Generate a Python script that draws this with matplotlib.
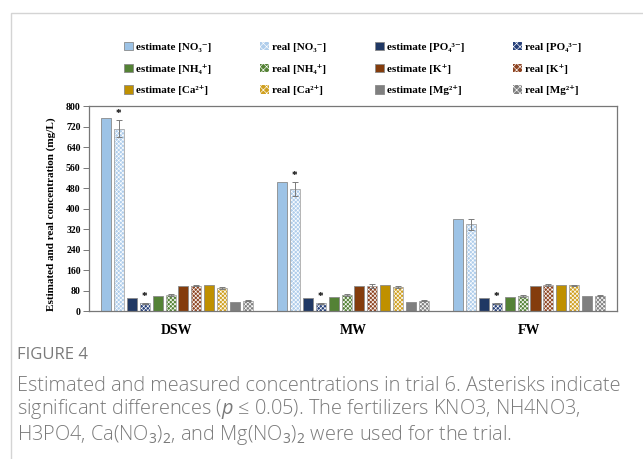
import numpy as np
import matplotlib
matplotlib.use('Agg')
import matplotlib.pyplot as plt
from matplotlib.patches import Rectangle, Patch

plt.rcParams['mathtext.fontset'] = 'custom'
plt.rcParams['mathtext.rm'] = 'Open Sans'
plt.rcParams['mathtext.it'] = 'Open Sans:italic'
plt.rcParams['hatch.linewidth'] = 0.45

SERIF = ['Liberation Serif', 'DejaVu Serif']

# --- data ---
groups = ['DSW', 'MW', 'FW']
ions = ['NO₃⁻', 'PO₄³⁻', 'NH₄⁺', 'K⁺', 'Ca²⁺', 'Mg²⁺']
estimate = {
    'NO₃⁻': [752, 502, 358],
    'PO₄³⁻': [51, 51, 51],
    'NH₄⁺': [57, 56, 56],
    'K⁺': [99, 99, 98],
    'Ca²⁺': [101, 100, 100],
    'Mg²⁺': [36, 35, 57],
}
real = {
    'NO₃⁻': [712, 477, 338],
    'PO₄³⁻': [30, 30, 31],
    'NH₄⁺': [62, 62, 58],
    'K⁺': [99, 96, 103],
    'Ca²⁺': [90, 94, 100],
    'Mg²⁺': [40, 40, 60],
}
real_err = {
    'NO₃⁻': [32, 28, 22],
    'PO₄³⁻': [3, 3, 2],
    'NH₄⁺': [3, 3, 3],
    'K⁺': [3, 8, 4],
    'Ca²⁺': [3, 3, 2],
    'Mg²⁺': [2, 2, 2],
}
# significant differences (real bars marked with *)
signif = {
    'NO₃⁻': [True, True, False],
    'PO₄³⁻': [True, True, True],
}

colors = {
    'NO₃⁻': '#9DC3E6',
    'PO₄³⁻': '#203864',
    'NH₄⁺': '#548235',
    'K⁺': '#843C0C',
    'Ca²⁺': '#BF9000',
    'Mg²⁺': '#7F7F7F',
}
real_face = {
    'NO₃⁻': '#AFCDEB',
    'PO₄³⁻': '#26407A',
    'NH₄⁺': '#548235',
    'K⁺': '#8E4422',
    'Ca²⁺': '#D0A020',
    'Mg²⁺': '#7F7F7F',
}

fig = plt.figure(figsize=(6.43, 4.59), dpi=100)
ax = fig.add_axes([0.1384, 0.3224, 0.8212, 0.4466])

x = np.arange(len(groups))
pitch = 0.0735
width = 0.057
handles = {}
for k, ion in enumerate(ions):
    c = colors[ion]
    xe = x + (2 * k - 5.5) * pitch
    xr = x + (2 * k + 1 - 5.5) * pitch
    ax.bar(xe, estimate[ion], width, color=c, edgecolor='#8a8a8a', linewidth=0.6)
    hatch = 'xxxxxxxx'
    ax.bar(xr, real[ion], width, color=real_face[ion], edgecolor='white', hatch=hatch, linewidth=0)
    ax.bar(xr, real[ion], width, fill=False, edgecolor='#a8a8a8', linewidth=0.6)
    ax.errorbar(xr, real[ion], yerr=real_err[ion], fmt='none', ecolor='#7a7a7a',
                elinewidth=0.7, capsize=2, capthick=0.7)
    handles['estimate [%s]' % ion] = Patch(facecolor=c, edgecolor='#8a8a8a', linewidth=0.6)
    handles['real [%s]' % ion] = Patch(facecolor=real_face[ion], edgecolor='white',
                                       hatch='xxxxx', linewidth=0)
    if ion in signif:
        for xi, v, e, s in zip(xr, real[ion], real_err[ion], signif[ion]):
            if s:
                ax.text(xi, v + e + 8, '*', ha='center', va='bottom', fontsize=8,
                        fontweight='bold', family=SERIF)

ax.set_xlim(-0.5, 2.5)
ax.set_ylim(0, 800)
ax.set_yticks(np.arange(0, 801, 80))
ax.set_xticks(x)
ax.set_xticklabels(groups, fontsize=10, fontweight='bold', family=SERIF)
ax.tick_params(axis='x', length=0, pad=9)
ax.tick_params(axis='y', direction='out', length=4, width=0.7, color='#777777', pad=2)
for lab in ax.get_yticklabels():
    lab.set_fontsize(7)
    lab.set_fontweight('bold')
    lab.set_family(SERIF)
for sp in ax.spines.values():
    sp.set_color('#777777')
    sp.set_linewidth(0.9)
ax.set_ylabel('Estimated and real concentration (mg/L)', fontsize=8, fontweight='bold',
              family=SERIF, labelpad=6)
ax.yaxis.set_label_coords(-0.062, 0.47)

# legend laid out row-wise, 4 columns
rows = [[ions[0], ions[1]], [ions[2], ions[3]], [ions[4], ions[5]]]
order = []
for col in range(4):
    for r in rows:
        ion = r[col // 2]
        order.append(('estimate [%s]' if col % 2 == 0 else 'real [%s]') % ion)
leg = fig.legend([handles[o] for o in order], order, ncol=4, loc='upper left',
                 bbox_to_anchor=(0.178, 0.93), frameon=False,
                 prop={'family': SERIF, 'weight': 'bold', 'size': 8},
                 handlelength=0.75, handleheight=0.75, handletextpad=0.3,
                 columnspacing=4.4, labelspacing=1.05)

# outer frame of the figure panel
fig.add_artist(Rectangle((11 / 643, -0.1), 1.0, 1 - 13 / 459 + 0.1, transform=fig.transFigure,
                         fill=False, edgecolor='#d4d4d4', linewidth=1.0))

fig.text(17 / 643, 1 - 355 / 459, 'FIGURE 4', fontsize=12, color='#7a7a7a',
         family='Open Sans', va='center')
caption = ('Estimated and measured concentrations in trial 6. Asterisks indicate\n'
           'significant differences ($p$ ≤ 0.05). The fertilizers KNO3, NH4NO3,\n'
           'H3PO4, Ca(NO$_3$)$_2$, and Mg(NO$_3$)$_2$ were used for the trial.')
fig.text(17 / 643, 1 - 376 / 459, caption, fontsize=14.3, color='#7a7a7a',
         family='Open Sans', fontweight='light', va='top', linespacing=1.08)

fig.savefig('out.png', dpi=100)
